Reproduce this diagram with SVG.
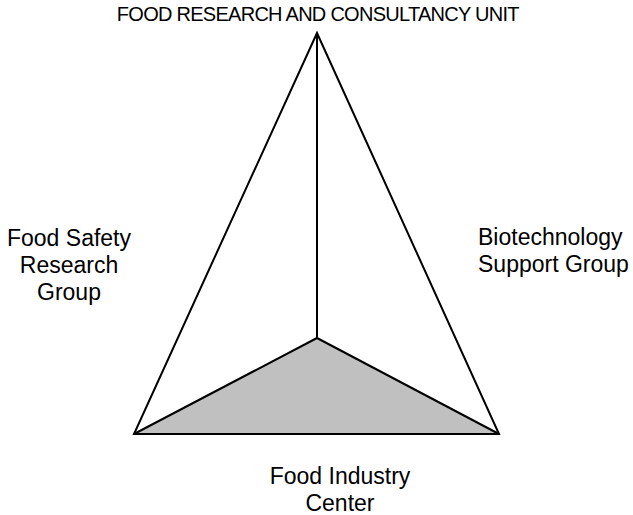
<svg xmlns="http://www.w3.org/2000/svg" width="633" height="515" viewBox="0 0 633 515">
  <style>
    .lbl { font-family: "Liberation Sans", Arial, sans-serif; font-size: 23px; fill: #000; }
    .title { font-family: "Liberation Sans", Arial, sans-serif; font-size: 20px; letter-spacing: -0.73px; fill: #000; }
    .edge { fill: none; stroke: #000; stroke-width: 2; stroke-linejoin: miter; }
  </style>
  <rect width="633" height="515" fill="#fff"/>
  <!-- shaded base face -->
  <g id="base-face">
    <polygon points="134,434 317,338 499,434" fill="#c0c0c0" stroke="none"/>
  </g>
  <g id="connectors">
    <polygon class="edge" points="317,33 134,434 499,434"/>
    <polyline class="edge" points="317,33 317,338"/>
    <polyline class="edge" points="134,434 317,338 499,434"/>
  </g>
  <g id="node-top">
    <text class="title" x="317.8" y="21" text-anchor="middle">FOOD RESEARCH AND CONSULTANCY UNIT</text>
  </g>
  <g id="node-left">
    <text class="lbl" x="69" y="246" text-anchor="middle">Food Safety</text>
    <text class="lbl" x="69" y="273" text-anchor="middle">Research</text>
    <text class="lbl" x="69" y="300" text-anchor="middle">Group</text>
  </g>
  <g id="node-right">
    <text class="lbl" x="478" y="245">Biotechnology</text>
    <text class="lbl" x="478" y="272">Support Group</text>
  </g>
  <g id="node-bottom">
    <text class="lbl" x="340" y="484" text-anchor="middle">Food Industry</text>
    <text class="lbl" x="340" y="511" text-anchor="middle">Center</text>
  </g>
</svg>
